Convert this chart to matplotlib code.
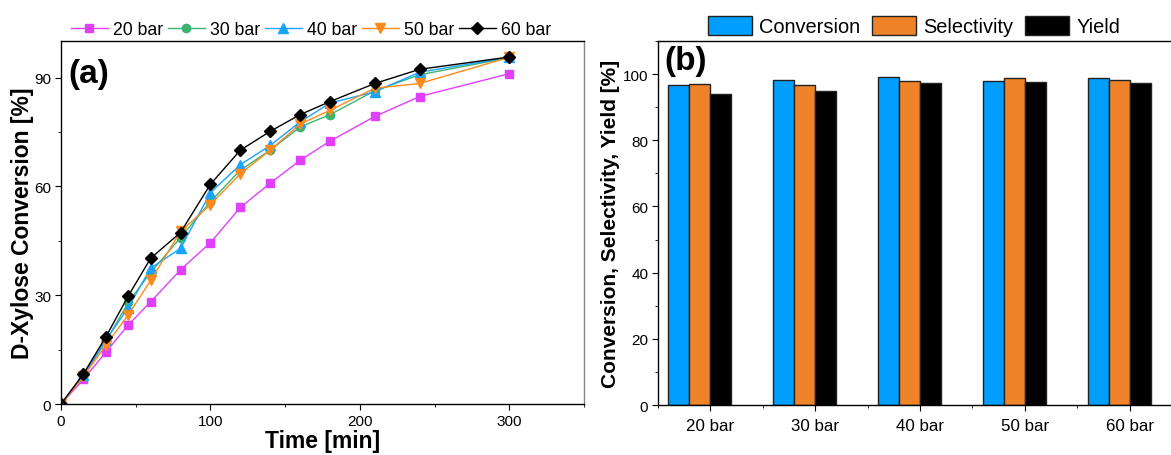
import numpy as np
import matplotlib
matplotlib.use("Agg")
import matplotlib.pyplot as plt
from matplotlib.ticker import MultipleLocator

plt.rcParams["font.family"] = ["Liberation Sans", "DejaVu Sans"]

# (a) conversion vs time
time_min = [0, 15, 30, 45, 60, 80, 100, 120, 140, 160, 180, 210, 240, 300]
conv_20 = [0, 6.8, 14.3, 21.8, 28.2, 37.0, 44.5, 54.2, 60.9, 67.2, 72.5, 79.3, 84.8, 91.1]
conv_30 = [0, 7.8, 17.3, 28.0, 36.3, 45.9, 55.8, 64.5, 70.0, 76.4, 79.8, 86.4, 90.8, 95.5]
conv_40 = [0, 7.9, 17.6, 26.6, 37.5, 42.9, 58.3, 66.0, 71.3, 77.8, 83.0, 86.1, 91.5, 95.6]
conv_50 = [0, 7.6, 16.2, 24.6, 34.1, 47.6, 55.0, 63.5, 70.0, 77.2, 81.0, 87.1, 88.4, 95.6]
conv_60 = [0, 8.3, 18.5, 29.8, 40.2, 47.3, 60.6, 70.0, 75.2, 79.8, 83.4, 88.4, 92.3, 95.7]
series_labels = ["20 bar", "30 bar", "40 bar", "50 bar", "60 bar"]

# (b) conversion / selectivity / yield per pressure
pressures = ["20 bar", "30 bar", "40 bar", "50 bar", "60 bar"]
conversion = [96.7, 98.1, 99.1, 97.9, 98.9]
selectivity = [97.1, 96.6, 97.8, 98.7, 98.2]
yield_ = [94.0, 94.9, 97.2, 97.7, 97.3]

colors = ["#E040FB", "#3CB371", "#1AA3FF", "#FF8A1A", "black"]
markers = ["s", "o", "^", "v", "D"]
msizes = [6, 6, 7, 7, 6.5]

fig = plt.figure(figsize=(11.71, 4.56), dpi=100)
ax1 = fig.add_axes([0.0521, 0.1118, 0.4466, 0.7952])
ax2 = fig.add_axes([0.5619, 0.1096, 0.4475, 0.7984])

for ys, lab, c, m, ms in zip([conv_20, conv_30, conv_40, conv_50, conv_60],
                             series_labels, colors, markers, msizes):
    ax1.plot(time_min, ys, color=c, marker=m, ms=ms, lw=1, label=lab)

ax1.set_xlim(0, 350)
ax1.set_ylim(0, 100)
ax1.xaxis.set_major_locator(MultipleLocator(100))
ax1.xaxis.set_minor_locator(MultipleLocator(50))
ax1.yaxis.set_major_locator(MultipleLocator(30))
ax1.yaxis.set_minor_locator(MultipleLocator(15))
ax1.set_xlabel("Time [min]", fontsize=16.5, fontweight="bold", labelpad=1)
ax1.set_ylabel("D-Xylose Conversion [%]", fontsize=16.5, fontweight="bold", labelpad=0)
ax1.text(0.014, 0.955, "(a)", transform=ax1.transAxes, fontsize=24,
         fontweight="bold", va="top", ha="left")
ax1.legend(loc="lower center", bbox_to_anchor=(0.478, 0.975), ncol=5, frameon=False,
           fontsize=12.7, handlelength=2.1, handletextpad=0.3, columnspacing=0.25,
           borderpad=0.2)
ax1.spines["right"].set_color("#888888")

x = np.arange(1, len(pressures) + 1)
w = 0.2
ax2.bar(x - 0.3, conversion, w, color="#009EFF", edgecolor="#222222", lw=1, label="Conversion")
ax2.bar(x - 0.1, selectivity, w, color="#EF8329", edgecolor="#222222", lw=1, label="Selectivity")
ax2.bar(x + 0.1, yield_, w, color="black", edgecolor="#222222", lw=1, label="Yield")
ax2.set_xlim(0.5, 5.5)
ax2.set_ylim(0, 110)
ax2.set_xticks(x)
ax2.set_xticklabels(pressures)
ax2.xaxis.set_minor_locator(MultipleLocator(0.5))
ax2.yaxis.set_major_locator(MultipleLocator(20))
ax2.yaxis.set_minor_locator(MultipleLocator(10))
ax2.set_ylabel("Conversion, Selectivity, Yield [%]", fontsize=15, fontweight="bold", labelpad=2)
ax2.text(0.012, 0.99, "(b)", transform=ax2.transAxes, fontsize=24,
         fontweight="bold", va="top", ha="left")
ax2.legend(loc="lower center", bbox_to_anchor=(0.489, 0.975), ncol=3, frameon=False,
           fontsize=14.4, handlelength=2.2, handleheight=1.1, handletextpad=0.35,
           columnspacing=0.6, borderpad=0.2)
ax2.spines["right"].set_visible(False)

for ax in (ax1, ax2):
    ax.tick_params(which="major", direction="out", length=4, labelsize=11, pad=3)
    ax.tick_params(which="minor", direction="out", length=2.5)
    for s in ax.spines.values():
        s.set_linewidth(1)
ax2.tick_params(axis="x", which="major", labelsize=12.2, pad=5)

fig.savefig("out.png", dpi=100)
